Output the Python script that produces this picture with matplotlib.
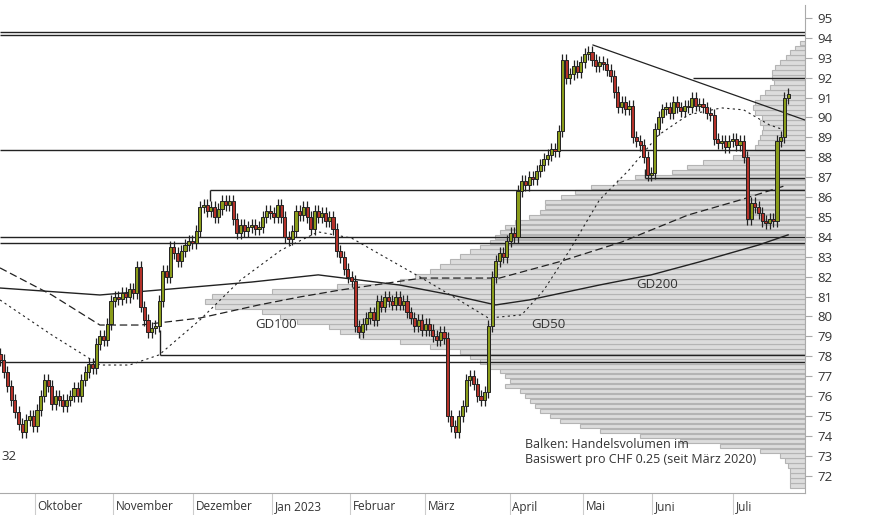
import numpy as np
import matplotlib.pyplot as plt

plt.rcParams['font.family'] = ['Open Sans', 'DejaVu Sans']

# Schlusskurse pro Handelstag (CHF)
closes = [77.8, 77.2, 76.5, 75.8, 75.2, 74.6, 74.2, 74.8, 75.0, 74.5,
          75.3, 76.0, 76.8, 76.5, 75.6, 76.0, 75.8, 75.5, 75.8, 76.0, 76.4,
          76.0, 76.8, 77.2, 77.6, 77.4, 78.6, 79.0, 78.8, 79.6, 80.8,
          81.0, 80.9, 81.2, 81.0, 81.4, 81.2, 82.5, 80.5, 79.8, 79.2, 79.4,
          79.5, 80.8, 82.3, 82.0, 83.5, 83.2, 82.8, 83.3, 83.6, 83.8, 83.7,
          84.3, 85.5, 85.6, 85.3, 85.5, 85.0, 85.4, 85.8, 85.6, 85.8, 84.9,
          84.2, 84.6, 84.3, 84.5, 84.6, 84.4, 84.5, 85.0, 85.3, 85.2, 85.0,
          85.6, 85.0, 84.0, 83.9, 84.3, 85.3, 85.1, 85.5, 85.0, 84.4, 85.3,
          85.0, 85.2, 84.8, 85.0, 84.4, 83.3, 83.0, 82.4, 82.0, 81.8,
          79.5, 79.2, 79.6, 79.9, 80.2, 79.8, 80.8, 80.5, 81.0, 80.8, 80.6,
          81.0, 80.6, 80.8, 80.2, 79.9, 79.5, 79.8, 79.3, 79.6,
          79.3, 79.0, 78.8, 79.2, 78.9,
          75.0, 74.5, 74.2, 75.0, 75.5, 76.8, 77.0, 76.6, 76.0,
          75.8, 76.2, 79.5, 82.0,
          82.8, 83.2, 83.0, 83.8, 84.2, 84.0,
          86.3, 86.8, 86.6, 87.0, 86.9, 87.3, 87.6,
          87.9, 88.1, 88.4, 88.3, 89.3,
          92.9, 92.0, 92.2, 92.6, 92.3, 92.8,
          93.2, 93.3, 92.9, 92.6, 92.8, 92.7, 92.4, 92.1,
          91.3, 90.5, 90.8, 90.4, 90.6, 89.0, 88.8,
          88.6, 88.0, 87.1, 87.2, 89.4, 90.0,
          90.4, 90.5, 90.2, 90.8, 90.5, 90.3, 90.6, 90.5,
          91.0, 90.6, 90.7, 90.5, 90.2, 90.1, 88.9,
          88.7, 88.8, 88.5, 88.8, 88.9, 88.6, 88.8,
          88.0, 84.9, 85.7, 85.5,
          85.2, 84.8, 84.7, 84.9,
          84.8, 88.8, 89.0, 91.0, 91.2]

# gleitende Durchschnitte: (Handelstag, Kurs)
gd200_days = [0, 27, 43, 68, 86, 108, 122, 134, 143, 162, 176, 189, 205, 213]
gd200_vals = [81.43, 81.08, 81.33, 81.73, 82.09, 81.58, 81.08, 80.58, 80.83, 81.58, 82.09, 82.74, 83.59, 84.10]
gd100_days = [0, 14, 27, 38, 54, 70, 81, 92, 114, 135, 151, 168, 186, 200, 212]
gd100_vals = [82.44, 81.08, 79.57, 79.57, 79.92, 80.58, 80.98, 81.33, 81.93, 81.93, 82.74, 83.74, 85.10, 85.85, 86.56]
gd50_days = [0, 14, 27, 35, 43, 54, 65, 76, 86, 95, 103, 114, 124, 132, 141, 147, 154, 162, 170, 178, 186, 195, 201, 208, 212]
gd50_vals = [80.83, 79.07, 77.56, 77.56, 78.07, 79.82, 81.83, 83.34, 84.25, 83.94, 83.09, 81.93, 80.83, 79.92, 80.08, 81.33, 83.34, 85.85, 87.36, 89.12, 90.13, 90.48, 90.38, 89.62, 89.37]

# Volumenprofil pro CHF 0.25
vol_prices = np.arange(71.5, 94.0, 0.25)
vol_left = [790, 790, 790, 790, 788, 785, 780, 760, 720, 680, 640, 600, 580, 560, 550, 540,
            535, 530, 525, 520, 505, 510, 505, 500, 490, 480, 470, 460, 430, 400, 360, 340,
            329, 297, 280, 262, 215, 205, 212, 272, 337, 400, 415, 430, 440, 450, 460, 470,
            480, 490, 495, 500, 505, 515, 529, 540, 545, 545, 561, 575, 591, 617, 635, 672,
            687, 703, 733, 745, 755, 758, 760, 762, 763, 760, 762, 755, 753, 755, 760, 765,
            770, 774, 772, 772, 775, 780, 786, 790, 795, 800]
volumes = [805 - v for v in vol_left]

months = ['Oktober', 'November', 'Dezember', 'Jan 2023', 'Februar', 'März',
          'April', 'Mai', 'Juni', 'Juli']
month_starts = [9.5, 30.5, 52.2, 73.5, 94.6, 114.9, 137.8, 157.6, 176.2, 198.1]

green = '#8a9c1a'
red = '#b5322a'
dark = '#222222'
PX = 3.7  # pixel pro Handelstag

fig = plt.figure(figsize=(8.74, 5.15), dpi=100)
ax = fig.add_axes([0, 22 / 515, 805 / 874, 488 / 515])
xmax = 805 / PX
ax.set_xlim(0, xmax)
ax.set_ylim(71.13, 95.65)

# Volumenbalken
axv = ax.twiny()
axv.set_xlim(805, 0)
axv.barh(vol_prices, volumes, height=0.23, left=0, color='#dcdcdc',
         edgecolor='#b4b4b4', linewidth=0.8, zorder=1)
axv.set_xticks([])
ax.set_zorder(axv.get_zorder() + 1)
ax.patch.set_visible(False)

# Kerzen
closes = np.array(closes)
opens = np.r_[closes[0] + 0.3, closes[:-1]]
for i, (o, c) in enumerate(zip(opens, closes)):
    col = green if c >= o else red
    lo, hi = min(o, c), max(o, c)
    ax.vlines(i, lo - 0.3, hi + 0.3, color=dark, lw=0.9, zorder=3)
    h = max(hi - lo, 0.05)
    ax.add_patch(plt.Rectangle((i - 0.42, lo), 0.84, h, facecolor=col,
                               edgecolor=dark, lw=0.7, zorder=4))

# Durchschnitte
ax.plot(gd200_days, gd200_vals, color=dark, lw=1.0, zorder=2)
ax.plot(gd100_days, gd100_vals, color=dark, lw=0.9, dashes=(6, 3), zorder=2)
ax.plot(gd50_days, gd50_vals, color=dark, lw=0.8, dashes=(2, 3), zorder=2)

# Unterstuetzungen / Widerstaende
for y, x0 in [(94.3, 0), (94.15, 0), (92.0, 693), (88.37, 0), (86.96, 645),
              (86.36, 210), (84.0, 0), (83.7, 0), (78.07, 160), (77.7, 0)]:
    ax.hlines(y, x0 / PX, xmax, color=dark, lw=1.0, zorder=2)
ax.vlines(160 / PX, 78.07, 79.3, color=dark, lw=1.0, zorder=2)
ax.vlines(210 / PX, 85.8, 86.36, color=dark, lw=1.0, zorder=2)
ax.vlines(645 / PX, 86.96, 87.4, color=dark, lw=1.0, zorder=2)
ax.plot([593 / PX, xmax], [93.64, 89.87], color=dark, lw=0.9, zorder=2)

txt = '#333333'
ax.text(69, 79.6, 'GD100', color=txt, fontsize=9.5, va='center', zorder=5)
ax.text(143.5, 79.6, 'GD50', color=txt, fontsize=9.5, va='center', zorder=5)
ax.text(172, 81.6, 'GD200', color=txt, fontsize=9.5, va='center', zorder=5)
ax.text(0.3, 72.95, '32', color=txt, fontsize=9.5, va='center', zorder=5)
ax.text(142, 73.2, 'Balken: Handelsvolumen im\nBasiswert pro CHF 0.25 (seit März 2020)',
        color=txt, fontsize=9, va='center', linespacing=1.25, zorder=5)

# Achsen
for s in ['top', 'left']:
    ax.spines[s].set_visible(False)
    axv.spines[s].set_visible(False)
ax.spines['right'].set_color('#aaaaaa')
ax.spines['bottom'].set_color('#aaaaaa')
axv.spines['right'].set_visible(False)
axv.spines['bottom'].set_visible(False)
ax.yaxis.tick_right()
ax.set_yticks(range(72, 96))
ax.tick_params(axis='y', length=5, color='#aaaaaa', labelsize=9.5, labelcolor=txt, pad=4)
ax.set_xticks(month_starts)
ax.set_xticklabels([])
ax.tick_params(axis='x', length=22, color='#cccccc', direction='out')
for m, x in zip(months, month_starts):
    ax.text(x + 0.7, -14 / 488, m, transform=ax.get_xaxis_transform(), fontsize=8.5,
            color=txt, va='center', ha='left')

fig.savefig('out.png', dpi=100)
